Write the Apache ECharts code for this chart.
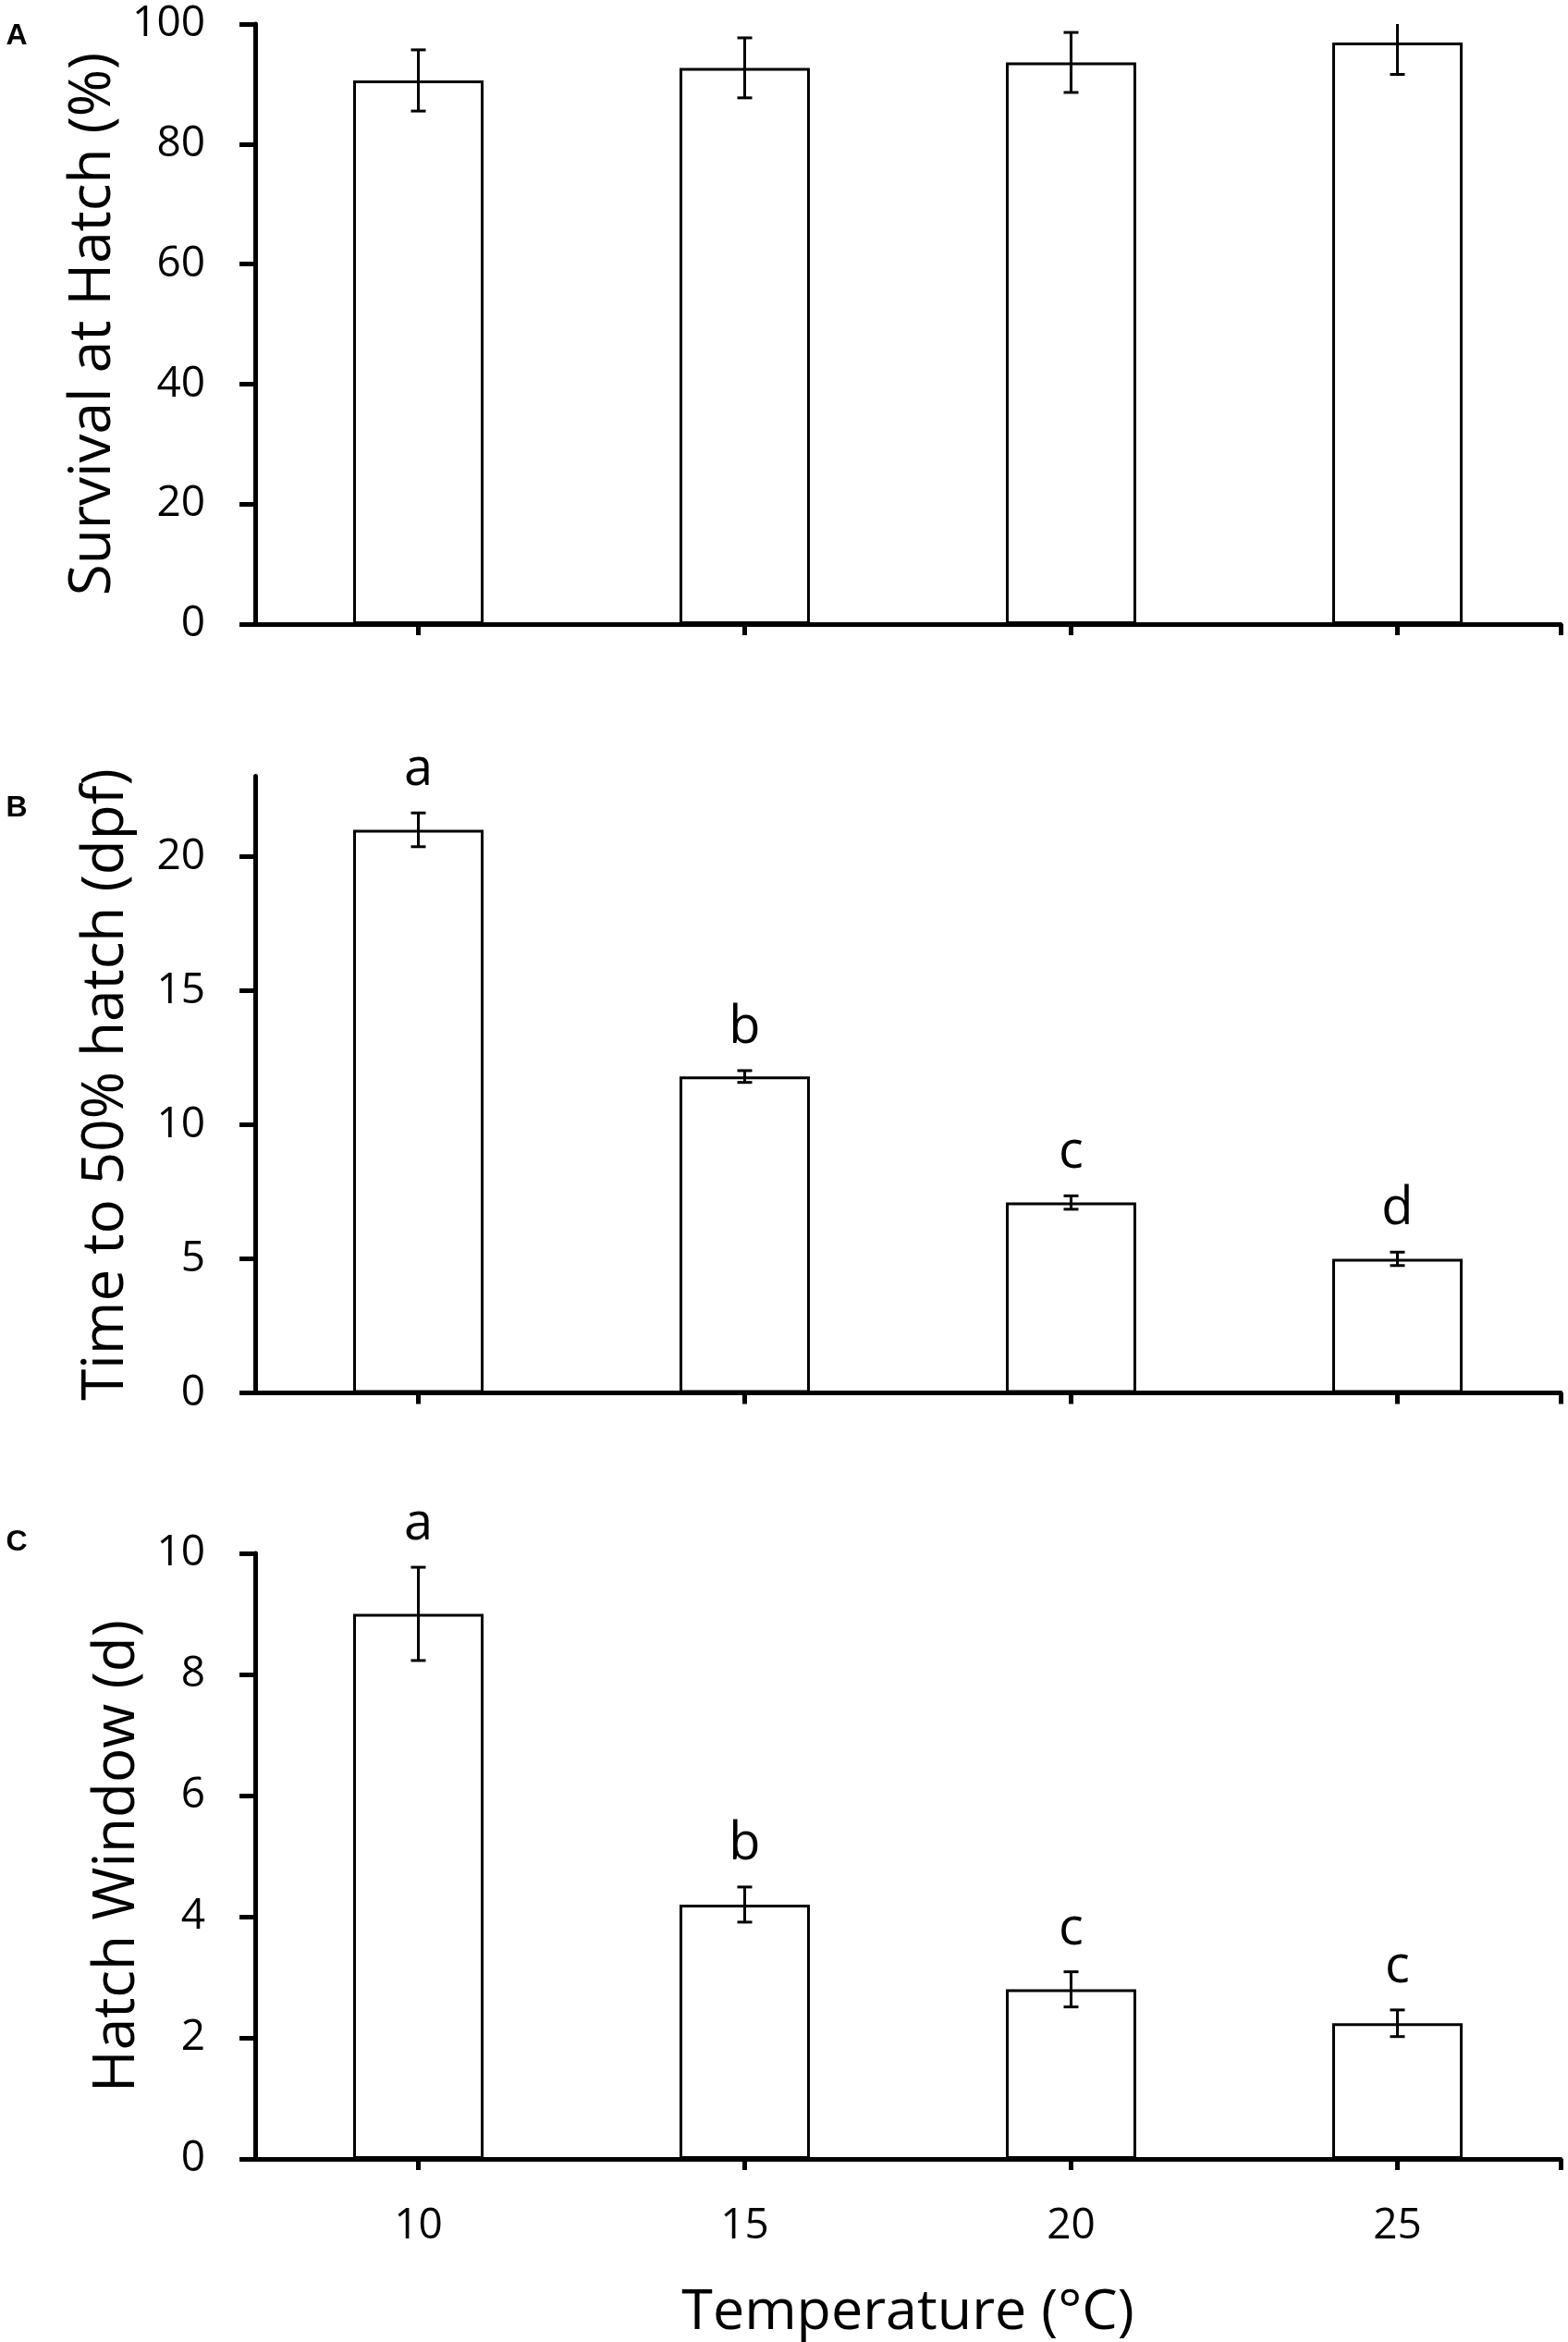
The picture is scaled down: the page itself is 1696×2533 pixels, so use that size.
<!DOCTYPE html>
<html>
<head>
<meta charset="utf-8">
<script src="https://cdn.jsdelivr.net/npm/echarts@6/dist/echarts.min.js"></script>
<style>
  html, body { margin: 0; padding: 0; background: #fff; }
  #chart { width: 1696px; height: 2533px; }
</style>
</head>
<body>
<div id="chart"></div>
<script>
// temperature groups (°C)
const temps = [10, 15, 20, 25]

// A: survival at hatch (%)
const survivalMean = [90.6, 92.7, 93.6, 96.9]
const survivalErr = [5.1, 5.0, 5.0, 5.3]

// B: time to 50% hatch (dpf)
const hatchTimeMean = [21.0, 11.8, 7.1, 5.0]
const hatchTimeErr = [0.63, 0.22, 0.25, 0.25]
const hatchTimeLetters = ['a', 'b', 'c', 'd']

// C: hatch window (d)
const hatchWindowMean = [9.0, 4.2, 2.8, 2.24]
const hatchWindowErr = [0.77, 0.29, 0.29, 0.22]
const hatchWindowLetters = ['a', 'b', 'c', 'c']

// y axis ticks
const survivalTicks = [0, 20, 40, 60, 80, 100]
const hatchTimeTicks = [0, 5, 10, 15, 20]
const hatchWindowTicks = [0, 2, 4, 6, 8, 10]

const FONT = '"Open Sans", "Noto Sans", sans-serif'
const chart = echarts.init(document.getElementById('chart'), null, { renderer: 'canvas' })

const panels = [
  { top: 26, height: 649, max: 100, ticks: survivalTicks, name: 'Survival at Hatch (%)', nameGap: 136,
    mean: survivalMean, err: survivalErr, letters: null, xLabels: false },
  { top: 839.5, height: 667, max: 23, ticks: hatchTimeTicks, name: 'Time to 50% hatch (dpf)', nameGap: 130,
    mean: hatchTimeMean, err: hatchTimeErr, letters: hatchTimeLetters, xLabels: false },
  { top: 1680, height: 657, max: 10, ticks: hatchWindowTicks, name: 'Hatch Window (d)', nameGap: 118,
    mean: hatchWindowMean, err: hatchWindowErr, letters: hatchWindowLetters, xLabels: true }
]

const axisLineStyle = { color: '#000', width: 5 }

const grid = panels.map(p => ({ left: 276, right: 8, top: p.top, height: p.height }))

const xAxis = panels.map((p, i) => ({
  type: 'value',
  gridIndex: i,
  min: 7.5,
  max: 27.5,
  splitLine: { show: false },
  axisLine: { show: true, onZero: false, lineStyle: axisLineStyle },
  axisTick: { show: true, length: 12, lineStyle: { color: '#000', width: 5 }, customValues: temps.concat([27.5]) },
  axisLabel: { show: p.xLabels, customValues: temps, margin: 50, color: '#000', fontSize: 46, fontFamily: FONT },
  name: p.xLabels ? 'Temperature (°C)' : '',
  nameLocation: 'middle',
  nameGap: 136,
  nameTextStyle: { color: '#000', fontSize: 61, fontFamily: FONT }
}))

const yAxis = panels.map((p, i) => ({
  type: 'value',
  gridIndex: i,
  min: 0,
  max: p.max,
  splitLine: { show: false },
  axisLine: { show: true, lineStyle: axisLineStyle },
  axisTick: { show: true, length: 17, lineStyle: { color: '#000', width: 5 }, customValues: p.ticks },
  axisLabel: { customValues: p.ticks, margin: 54, color: '#000', fontSize: 46, fontFamily: FONT },
  name: p.name,
  nameLocation: 'middle',
  nameGap: p.nameGap,
  nameTextStyle: { color: '#000', fontSize: 62, fontFamily: FONT }
}))

const series = []
panels.forEach((p, i) => {
  series.push({
    type: 'bar',
    xAxisIndex: i,
    yAxisIndex: i,
    barWidth: 141,
    data: temps.map((t, k) => [t, p.mean[k]]),
    itemStyle: { color: '#fff', borderColor: '#000', borderWidth: 3 },
    silent: true,
    z: 1
  })
  // error bars + significance letters
  series.push({
    type: 'custom',
    xAxisIndex: i,
    yAxisIndex: i,
    data: temps.map((t, k) => [t, p.mean[k], p.err[k], k]),
    silent: true,
    z: 3,
    renderItem: (params, api) => {
      const x = api.value(0)
      const m = api.value(1)
      const e = api.value(2)
      const k = api.value(3)
      const hi = Math.min(m + e, p.max)
      const topPt = api.coord([x, hi])
      const lowPt = api.coord([x, m - e])
      const cap = 8
      const style = { stroke: '#000', lineWidth: 3 }
      const children = [
        { type: 'line', shape: { x1: topPt[0], y1: topPt[1], x2: lowPt[0], y2: lowPt[1] }, style },
        { type: 'line', shape: { x1: lowPt[0] - cap, y1: lowPt[1], x2: lowPt[0] + cap, y2: lowPt[1] }, style }
      ]
      if (m + e <= p.max) {
        children.push({ type: 'line', shape: { x1: topPt[0] - cap, y1: topPt[1], x2: topPt[0] + cap, y2: topPt[1] }, style })
      }
      if (p.letters) {
        children.push({
          type: 'text',
          x: topPt[0],
          y: topPt[1] - 18,
          style: {
            text: p.letters[k],
            fill: '#000',
            font: '56px ' + FONT,
            align: 'center',
            verticalAlign: 'bottom'
          }
        })
      }
      return { type: 'group', children }
    }
  })
})

const panelLabels = [['A', 39], ['B', 874], ['C', 1668]]

chart.setOption({
  animation: false,
  backgroundColor: '#fff',
  grid,
  xAxis,
  yAxis,
  series,
  graphic: panelLabels.map(([t, y]) => ({
    type: 'text',
    x: 18,
    y,
    style: {
      text: t,
      fill: '#000',
      font: 'bold 32px "Liberation Sans", Arial, sans-serif',
      align: 'center',
      verticalAlign: 'middle'
    }
  }))
})
</script>
</body>
</html>
